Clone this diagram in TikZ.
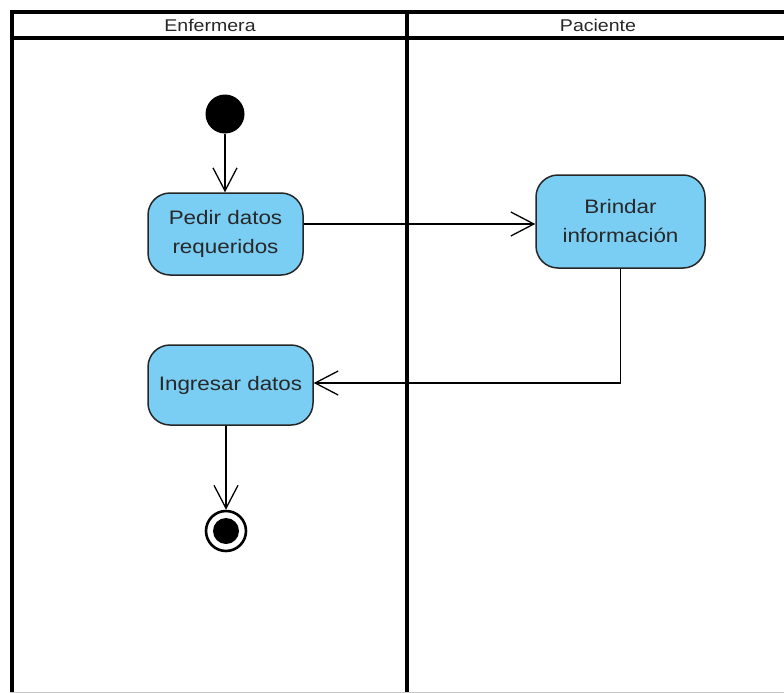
\documentclass[tikz,border=0pt]{standalone}
\usepackage{fontspec}
\setmainfont{Liberation Sans}
\newfontfamily\lanefont[FakeStretch=1.15]{Liberation Sans}
\usetikzlibrary{arrows.meta}
\definecolor{actfill}{RGB}{122,206,244}
\definecolor{txt}{RGB}{40,40,40}
\tikzset{
  lane/.style={line width=4pt, line cap=rect},
  lanetitle/.style={font=\lanefont\fontsize{17}{20}\selectfont, text=txt, inner sep=0pt},
  activity/.style={draw=black!85, line width=1.5pt, fill=actfill, rounded corners=22pt,
    align=center, text=txt, inner sep=0pt,
    font=\lanefont\fontsize{19.5}{29}\selectfont},
  flow/.style={line width=1.3pt, -{Straight Barb[length=23pt,width=24pt,line width=1.3pt]}},
  startnode/.style={circle, fill=black, minimum size=39pt, inner sep=0pt},
  endring/.style={circle, draw=black, line width=2.6pt, fill=white, minimum size=40pt, inner sep=0pt},
  enddot/.style={circle, fill=black, minimum size=26pt, inner sep=0pt}
}
\begin{document}
\begin{tikzpicture}[x=1pt, y=-1pt]
  \useasboundingbox (0,0) rectangle (784,693);
  \fill[white] (0,0) rectangle (784,693);

  % swimlane frame
  \coordinate (tl) at (12,12);
  \coordinate (tr) at (786,12);
  \coordinate (hl) at (12,38);
  \coordinate (hr) at (786,38);
  \coordinate (bl) at (12,695);
  \coordinate (dt) at (407,12);
  \coordinate (db) at (407,695);
  \draw[lane] (bl) -- (tl) -- (tr);
  \draw[lane] (hl) -- (hr);
  \draw[lane] (dt) -- (db);
  \draw[gray!45, line width=1pt] (10,692.5) -- (784,692.5);

  \node[lanetitle] (laneA) at (210,25.5) {Enfermera};
  \node[lanetitle] (laneB) at (598,25.5) {Paciente};

  % activities
  \node[startnode] (init) at (225,114) {};
  \node[activity, minimum width=155pt, minimum height=82pt] (pedir) at (225.5,234)
    {Pedir datos\\requeridos};
  \node[activity, minimum width=169pt, minimum height=93pt] (brindar) at (620.5,221.5)
    {Brindar\\información};
  \node[activity, minimum width=165pt, minimum height=80pt] (ingresar) at (230.5,385)
    {Ingresar datos};
  \node[endring] (final) at (226,531) {};
  \node[enddot] (finaldot) at (final) {};

  % control flows
  \draw[flow] (init) -- (init |- pedir.north);
  \draw[flow] ([yshift=10pt]pedir.east) -- ([yshift=10pt]pedir.east -| brindar.west);
  \draw[flow] (brindar.south) |- ([yshift=2pt]ingresar.east);
  \draw[flow] (final |- ingresar.south) -- (final.north);
\end{tikzpicture}
\end{document}
